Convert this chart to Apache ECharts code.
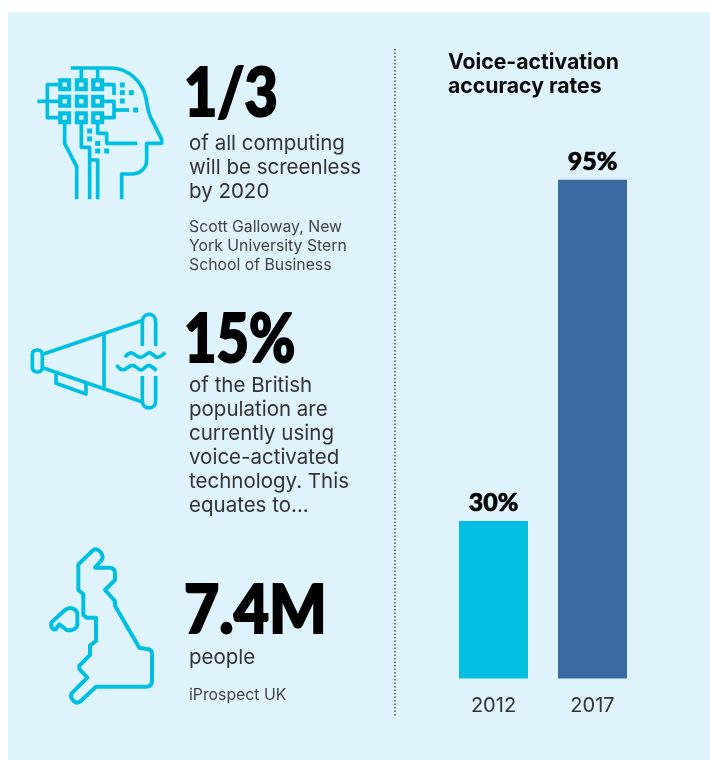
<!DOCTYPE html>
<html>
<head>
<meta charset="utf-8">
<style>html,body{margin:0;padding:0;background:#fff}#chart{width:710px;height:760px}</style>
<script src="https://cdn.jsdelivr.net/npm/echarts@6/dist/echarts.min.js"></script>
</head>
<body>
<div id="chart"></div>
<script>
// Bar chart data
const years = ['2012', '2017'];
const accuracy = [30, 95];
const barColors = ['#00bfe0', '#3b6aa2'];
const chartTitle = ['Voice-activation', 'accuracy rates'];

// Statistic call-outs
const headlineStats = ['1/3', '15%', '7.4M'];
const screenlessText = ['of all computing', 'will be screenless', 'by 2020'];
const screenlessSource = ['Scott Galloway, New', 'York University Stern', 'School of Business'];
const populationText = ['of the British', 'population are', 'currently using', 'voice-activated', 'technology. This', 'equates to...'];
const peopleText = ['people'];
const peopleSource = ['iProspect UK'];

const FONT = 'Inter, "Noto Sans", sans-serif';
const HEAVY = 'Lato, Inter, sans-serif';
const ICON = '#00bfe0';

function textBlock(lines, x, y, step, size, color, weight, family, squeeze) {
  return lines.map((t, i) => ({
    type: 'text', x: x, y: y + i * step, silent: true, scaleX: squeeze || 1,
    style: { text: t, fill: color, font: (weight || 400) + ' ' + size + 'px ' + (family || FONT), textVerticalAlign: 'middle', textBaseline: 'middle' }
  }));
}

// Headline figures get a thin outline so they read heavier than the Lato black cut
function headline(text, x, y, squeeze) {
  const el = textBlock([text], x, y, 0, 66, '#000', 900, HEAVY, squeeze)[0];
  el.style.stroke = '#000';
  el.style.lineWidth = 2;
  return el;
}

// Icon outlines, each drawn in its own 3x local space
const headPaths = [
  'M152 84H270C325 84 368 125 378 175C382 200 384 215 392 232L425 298V310H380V360C380 385 360 402 335 402H305V478',
  'M184 84V118', 'M233 84V118',
  'M52 184H115', 'M115 134H82V233H115',
  'M252 134H282V165', 'M252 184H282V233H252', 'M282 210H327',
  'M134 250V310L170 380V478', 'M184 250V322H209V478', 'M209 360H233V478',
  'M233 250V280H260V310H352'
];
const headSquares = [[134,134],[184,134],[233,134],[134,184],[184,184],[233,184],[134,233],[184,233],[233,233]];
const headDots = [[307,135],[307,158],[334,158],[307,183],[347,210],[209,273],[209,297],[233,310],[233,333],[260,333]];

const hornPaths = [
  'M68 163L365 62M68 203L365 305',
  'M52 150C62 150 67 156 67 164V202C67 210 62 216 52 216C42 216 37 210 37 202V164C37 156 42 150 52 150Z',
  'M367 138V65C367 36 407 36 407 65V138',
  'M367 228V302C367 331 407 331 407 302V228',
  'M252 105V262',
  'M108 222V250L198 282V250',
  'M315 172C322 160 330 158 337 160C345 163 352 172 362 172C372 172 380 158 388 158C396 158 404 172 412 172C420 172 428 165 436 158',
  'M290 195C297 207 305 210 312 209C320 207 327 196 337 196C347 196 355 210 363 210C371 210 378 196 386 196C394 196 400 206 410 211'
];

const ukPaths = [
  'M190 45L145 88V165L160 178V240L170 248H198V318L180 332V360L148 392V402L172 428L125 475C118 488 135 510 150 500L198 455H348Q366 455 366 438V358Q366 342 350 342L328 338L255 212V198L225 165L255 135V115Q255 98 238 98H195L215 75C224 60 205 36 190 45Z',
  'M65 262L105 225C120 212 142 222 142 238V268C142 282 125 288 110 285L88 268L78 282C68 288 60 272 65 262Z'
];

function strokes(paths, lineWidth) {
  return paths.map(d => ({
    type: 'path', shape: { pathData: d },
    style: { fill: 'none', stroke: ICON, lineWidth: lineWidth, lineJoin: 'round', lineCap: 'butt' }
  }));
}

function renderHead() {
  const kids = strokes(headPaths, 11);
  headSquares.forEach(p => kids.push({
    type: 'rect', shape: { x: p[0] - 13, y: p[1] - 13, width: 26, height: 26 },
    style: { fill: 'none', stroke: ICON, lineWidth: 13 }
  }));
  headDots.forEach(p => kids.push({
    type: 'rect', shape: { x: p[0] - 7.5, y: p[1] - 7.5, width: 15, height: 15 },
    style: { fill: ICON }
  }));
  return { type: 'group', x: 20, y: 40, scaleX: 1 / 3, scaleY: 1 / 3, children: kids };
}

function iconSeries(renderer) {
  return { type: 'custom', coordinateSystem: 'none', data: [0], silent: true, z: 5, renderItem: renderer };
}

const option = {
  animation: false,
  grid: { left: 444, width: 198, top: 153.5, height: 525 },
  xAxis: {
    type: 'category', data: years,
    axisLine: { show: false }, axisTick: { show: false },
    axisLabel: { color: '#333', fontFamily: FONT, fontSize: 20, margin: 17, fontWeight: 400 }
  },
  yAxis: { type: 'value', min: 0, max: 100, show: false },
  series: [
    {
      type: 'bar', barWidth: 69, z: 3,
      data: accuracy.map((v, i) => ({ value: v, itemStyle: { color: barColors[i] } })),
      label: { show: true, position: 'top', distance: 5.5, formatter: '{c}%', color: '#000', fontFamily: HEAVY, fontWeight: 900, fontSize: 25, textBorderColor: '#000', textBorderWidth: 0.6 }
    },
    iconSeries(renderHead),
    iconSeries(() => ({ type: 'group', x: 20, y: 300, scaleX: 1 / 3, scaleY: 1 / 3, children: strokes(hornPaths, 11) })),
    iconSeries(() => ({ type: 'group', x: 30, y: 535, scaleX: 1 / 3, scaleY: 1 / 3, children: strokes(ukPaths, 12) }))
  ],
  graphic: { elements: [
    { type: 'rect', silent: true, z: -10, shape: { x: 8, y: 12, width: 702, height: 748 }, style: { fill: '#dff3fd' } },
    { type: 'line', silent: true, shape: { x1: 395, y1: 49, x2: 395, y2: 716 }, style: { stroke: '#555', lineWidth: 1.5, lineDash: [1.5, 2] } },
    ...textBlock(chartTitle, 448, 62.5, 24, 21.2, '#0a0a0a', 700),
    headline(headlineStats[0], 184, 95, 0.87),
    ...textBlock(screenlessText, 189, 144, 24, 20.5, '#333'),
    ...textBlock(screenlessSource, 189, 227, 19, 15.8, '#444'),
    headline(headlineStats[1], 184, 341, 0.85),
    ...textBlock(populationText, 189, 386, 24, 20.5, '#333'),
    headline(headlineStats[2], 184, 612, 0.92),
    ...textBlock(peopleText, 189, 658, 0, 20.5, '#333'),
    ...textBlock(peopleSource, 189, 695, 0, 15.8, '#444')
  ] }
};

echarts.init(document.getElementById('chart'), null, { renderer: 'canvas' }).setOption(option);
</script>
</body>
</html>
